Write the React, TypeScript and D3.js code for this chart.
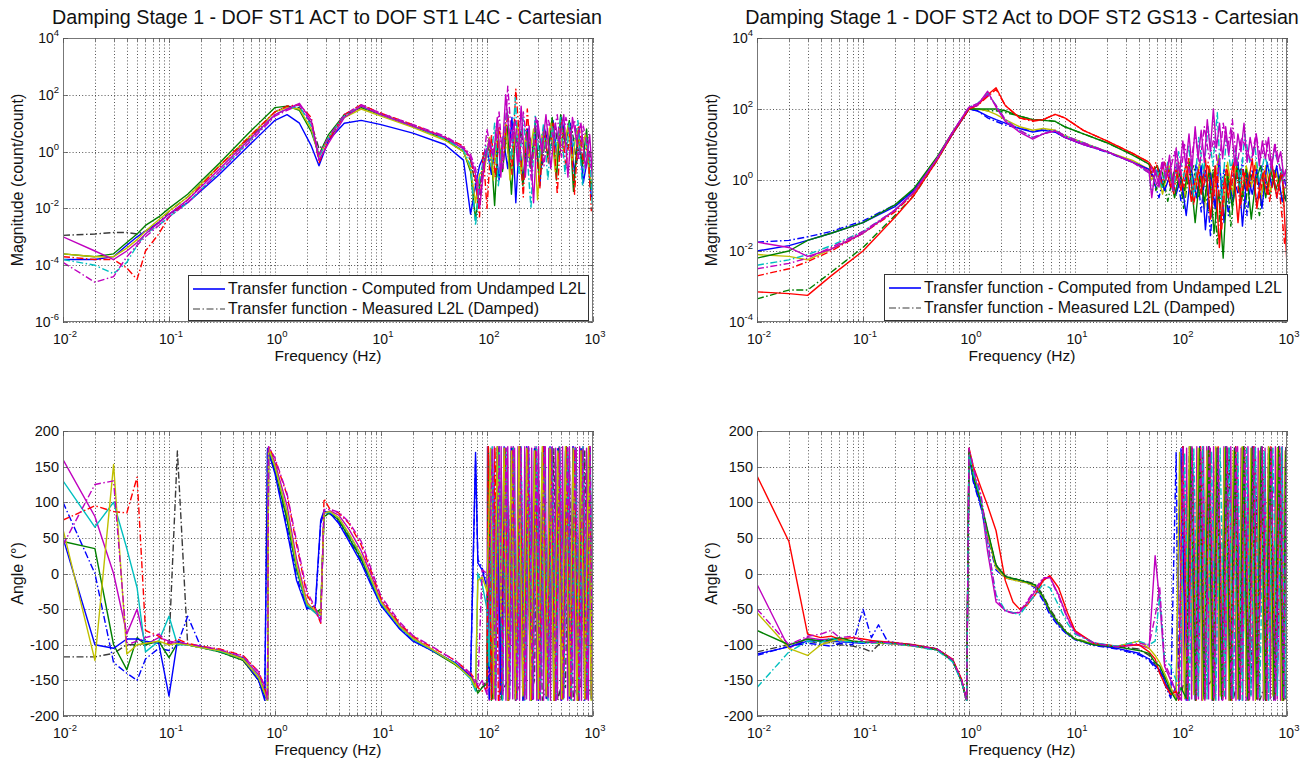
import React from 'react';
import * as d3 from 'd3';

// ---------------- text ----------------
const TITLE_ST1 = 'Damping Stage 1 - DOF ST1 ACT to DOF ST1 L4C - Cartesian';
const TITLE_ST2 = 'Damping Stage 1 - DOF ST2 Act to DOF ST2 GS13 - Cartesian';
const LEGEND_LABELS = ['Transfer function - Computed from Undamped L2L', 'Transfer function - Measured L2L (Damped)'];
const X_LABEL = 'Frequency (Hz)';
const MAG_LABEL = 'Magnitude (count/count)';
const ANGLE_LABEL = 'Angle (\u00b0)';

// ---------------- ticks ----------------
const X_TICK_EXP = [-2, -1, 0, 1, 2, 3];
const MAG_TICK_EXP_ST1 = [4, 2, 0, -2, -4, -6];
const MAG_TICK_EXP_ST2 = [4, 2, 0, -2, -4];
const ANGLE_TICKS = [200, 150, 100, 50, 0, -50, -100, -150, -200];

// ---------------- magnitude ST1 (log10 of count/count) ----------------
const FREQ_MAG_ST1 = [0.01,0.02,0.03,0.04,0.05,0.06,0.08,0.1,0.15,0.3,0.6,1,1.3,1.7,2.2,2.6,3.2,4.5,6.5,10,20,40,60,70,78,85];
const TAIL_MAG_ST1_A = [95,105,115,125,135,150,165,180,195,210,230,250,275,300,330,360,400,440,480,530,580,640,700,770,850,930,1000];
const TAIL_MAG_ST1_B = [92,100,110,120,130,142,157,172,187,202,220,240,262,287,315,345,380,420,460,505,555,610,670,735,810,890,965];
const TAIL_MAG_ST1_C = [98,108,118,128,140,155,170,185,200,218,238,260,285,312,342,375,412,452,495,545,598,655,720,795,870,950,990];
const MAG_ST1_BLACK_DD = [-2.95,-2.9,-2.85,-2.85,-2.9,-2.8,-2.5,-2.1,-1.6,-0.5,0.55,1.4,1.6,1.55,1.0,0.1,0.4,1.25,1.55,1.3,0.9,0.5,0.1,-0.3,-1.2,-1.8,
  -0.3,0.2,-0.9,0.6,-0.2,0.7,-0.7,0.9,-0.2,0.8,-0.5,0.6,0.0,0.8,-0.6,0.7,0.1,0.9,-0.2,0.8,0.1,0.7,-0.4,0.5,-0.2,0.0,-0.9];
const MAG_ST1_BLUE = [-3.8,-3.8,-3.7,-3.3,-3.0,-2.8,-2.5,-2.2,-1.8,-0.8,0.3,1.1,1.3,1.0,0.2,-0.5,0.4,1.0,1.1,0.95,0.65,0.25,-0.3,-2.2,-1.2,-0.5,
  -0.2,0.1,-0.8,0.3,-1.0,0.5,-0.6,1.2,-1.8,0.4,-1.1,0.8,-0.4,0.6,-1.2,0.9,0.2,1.1,-0.3,1.2,0.4,1.0,-0.8,0.7,-1.1,-0.2,-1.6];
const MAG_ST1_GREEN = [-3.6,-3.7,-3.6,-3.2,-2.9,-2.6,-2.3,-2.0,-1.5,-0.4,0.75,1.55,1.6,1.45,0.7,-0.1,0.6,1.3,1.55,1.3,0.9,0.45,0.0,-0.7,-2.4,-1.2,
  -0.1,0.3,-1.9,0.5,-0.7,0.9,-1.5,0.6,0.1,-1.2,0.7,-0.6,1.0,-1.0,0.8,-0.2,1.2,-1.0,1.3,0.3,1.1,-1.4,0.6,-0.5,0.8,-1.3,-1.0];
const MAG_ST1_YELLOW = [-3.6,-3.7,-3.7,-3.4,-3.1,-2.8,-2.4,-2.1,-1.6,-0.5,0.6,1.4,1.55,1.5,0.8,-0.2,0.5,1.2,1.5,1.25,0.85,0.4,0.0,-0.6,-1.8,-0.8,
  -0.6,0.5,-1.0,0.9,-0.4,1.0,-1.0,0.3,1.0,-0.8,0.5,-0.2,0.8,-1.7,0.6,0.1,1.0,-0.7,0.8,0.0,0.9,-0.4,0.8,0.1,0.6,-0.9,-1.1];
const MAG_ST1_RED_DD = [-3.7,-3.8,-3.8,-4.1,-4.5,-3.5,-2.9,-2.3,-1.7,-0.5,0.6,1.4,1.6,1.65,1.2,-0.4,0.4,1.3,1.65,1.35,0.95,0.5,0.2,-0.3,-1.0,-2.3,
  0.0,-2.0,0.6,-0.9,0.9,-0.3,1.4,-0.8,2.2,0.5,-1.6,1.5,-0.5,0.4,-1.3,0.9,-0.4,1.0,-1.5,1.1,-0.6,0.8,-1.5,1.0,-0.4,0.3,-2.1];
const MAG_ST1_CYAN_DD = [-3.8,-4.0,-4.3,-3.9,-3.3,-2.9,-2.6,-2.3,-1.8,-0.7,0.45,1.3,1.5,1.6,0.9,-0.2,0.5,1.25,1.6,1.3,0.9,0.45,0.05,-0.5,-2.6,-1.0,
  0.2,-0.5,1.0,-1.2,0.4,1.5,-0.3,1.9,-0.8,1.2,0.0,-2.0,1.3,-0.2,1.0,-1.0,0.9,0.2,1.2,-0.8,1.0,0.2,1.1,-1.2,0.5,-0.6,-2.1];
const MAG_ST1_MAGENTA = [-3.0,-3.5,-3.8,-3.5,-3.2,-2.9,-2.5,-2.2,-1.7,-0.6,0.5,1.3,1.5,1.7,1.1,-0.3,0.3,1.2,1.6,1.3,0.9,0.5,0.1,-0.2,-0.8,-2.0,
  -0.4,0.4,-0.2,1.2,-0.9,2.0,0.2,1.0,-0.5,1.6,-0.9,0.9,-1.8,1.1,0.0,1.3,-0.6,1.0,0.3,1.3,-0.9,1.2,0.4,1.0,-0.6,0.6,-1.2];
const MAG_ST1_MAGENTA_DD = [-3.9,-4.6,-4.4,-3.7,-3.3,-3.0,-2.6,-2.3,-1.8,-0.7,0.4,1.25,1.45,1.65,1.0,-0.1,0.5,1.3,1.65,1.35,0.95,0.55,0.15,-0.1,-0.6,-1.5,
  -0.5,0.8,-0.1,0.2,1.4,-0.6,2.3,0.3,1.1,-0.4,1.4,0.2,-1.0,1.2,0.5,-0.5,1.1,0.5,1.3,-0.2,1.2,0.6,1.1,-0.3,0.9,0.2,-0.6];

// ---------------- magnitude ST2 (log10 of count/count) ----------------
const FREQ_MAG_ST2 = [0.01,0.02,0.03,0.05,0.1,0.2,0.3,0.5,0.7,1,1.2,1.5,1.8,2.2,3,4,5,6.5,8,12,20,35,50];
const TAIL_MAG_ST2_A = [55,62,70,80,90,100,112,125,140,155,170,190,210,230,255,280,310,345,380,420,470,520,580,650,720,800,900,1000];
const TAIL_MAG_ST2_B = [53,58,66,75,85,95,106,118,132,147,163,180,200,220,242,268,295,327,362,400,445,495,550,615,685,760,850,950];
const TAIL_MAG_ST2_C = [52,60,67,77,87,97,108,120,136,150,166,185,205,226,250,275,305,338,372,412,460,508,565,630,700,780,875,975];
const TAIL_MAG_ST2_DENSE = [53,57,62,67,72,78,84,90,97,104,111,119,127,136,145,155,166,177,189,202,216,231,247,264,282,301,322,344,368,
  393,420,449,480,513,548,586,626,669,715,764,816,872,932,975,1000];
const MAG_ST2_BLUE = [-2.0,-1.85,-1.7,-1.5,-1.2,-0.75,-0.3,0.6,1.3,2.0,1.95,1.8,1.7,1.6,1.45,1.35,1.4,1.35,1.2,1.0,0.8,0.5,0.3,
  0.1,0.3,-0.3,0.2,-0.4,0.1,-1.0,0.3,-0.5,0.4,-1.4,0.2,-0.8,0.6,-1.2,0.0,-0.6,0.5,-1.3,0.2,-0.4,0.3,-0.8,0.5,-0.2,0.4,-0.6,-0.4];
const MAG_ST2_BLUE_DD = [-1.75,-1.7,-1.6,-1.45,-1.15,-0.7,-0.3,0.6,1.3,2.0,1.95,1.75,1.65,1.55,1.45,1.38,1.42,1.35,1.2,1.0,0.78,0.5,0.3,
  0.0,-0.5,0.2,-0.2,0.4,-0.6,0.2,-0.4,0.5,-0.9,0.3,-1.6,0.4,-0.5,0.3,-1.0,0.2,-0.4,0.6,-1.0,0.3,-0.7,0.4,-0.3,0.5,-0.5,0.3,-0.3];
const MAG_ST2_GREEN = [-2.2,-2.0,-1.7,-1.5,-1.2,-0.7,-0.25,0.65,1.35,2.0,2.0,2.0,2.0,1.95,1.8,1.7,1.68,1.65,1.5,1.3,1.05,0.7,0.45,
  0.2,0.4,-0.2,0.3,-0.5,0.2,-0.3,0.5,-1.2,0.1,-0.6,0.3,-1.5,-0.3,-2.2,0.2,-0.8,0.4,-0.6,0.3,-1.1,0.0,0.4,-0.5,0.3,-0.3,0.2,-0.6];
const MAG_ST2_GREEN_DD = [-3.35,-3.1,-3.1,-2.6,-1.9,-1.0,-0.45,0.55,1.3,2.0,2.0,1.95,1.95,1.9,1.8,1.7,1.7,1.65,1.5,1.3,1.05,0.72,0.45,
  0.3,-0.3,0.3,-0.6,0.2,0.4,-0.8,0.1,0.4,-0.5,0.2,-0.9,0.3,-1.8,-0.2,0.3,-1.3,0.0,0.3,-0.8,0.2,-0.3,-1.0,0.2,-0.4,0.3,-0.2,-0.8];
const MAG_ST2_YELLOW = [-2.1,-2.15,-2.25,-1.95,-1.5,-0.85,-0.35,0.6,1.35,2.0,2.0,1.95,1.85,1.7,1.5,1.4,1.45,1.4,1.25,1.05,0.8,0.55,0.3,
  0.0,0.2,-0.4,0.4,-0.1,0.3,-0.5,0.6,-0.2,0.5,-0.8,0.4,-0.3,0.7,-0.9,0.5,-0.4,0.6,-0.5,0.4,-0.2,0.5,-0.6,0.4,-0.3,0.3,-0.4,-0.2];
const MAG_ST2_RED = [-3.15,-3.2,-3.25,-2.7,-2.0,-1.05,-0.45,0.55,1.3,2.0,2.1,2.4,2.6,2.1,1.75,1.68,1.7,1.85,1.75,1.4,1.1,0.75,0.5,
  0.3,0.1,0.5,-0.2,0.3,-0.3,0.5,-0.6,0.2,-0.4,0.6,-1.1,0.4,-1.9,0.1,-0.5,0.5,-1.2,0.3,-0.3,0.6,-0.8,0.2,-0.4,0.5,-0.5,0.3,-2.4];
const MAG_ST2_RED_DD = [-2.7,-2.5,-2.3,-2.0,-1.5,-0.9,-0.38,0.6,1.33,2.0,2.1,2.35,2.55,2.1,1.75,1.65,1.7,1.85,1.75,1.4,1.1,0.75,0.5,
  0.1,0.5,-0.1,0.4,-0.4,0.5,-0.2,0.6,-0.7,0.3,-0.2,0.5,-0.6,0.2,-1.4,0.4,-0.3,0.6,-0.8,0.2,-0.2,0.4,-0.5,0.3,-0.6,0.2,-0.3,-1.8];
const MAG_ST2_CYAN_DD = [-2.4,-2.25,-2.1,-1.85,-1.45,-0.85,-0.35,0.6,1.35,2.05,2.15,2.45,2.1,1.7,1.4,1.2,1.3,1.4,1.25,1.05,0.8,0.5,0.2,
  -0.4,0.3,-0.2,0.5,-0.3,0.8,0.1,1.0,-0.5,1.2,0.2,1.5,0.4,1.9,-0.6,1.2,0.3,0.9,-0.2,1.3,0.5,1.0,-0.1,0.7,0.2,0.8,0.4,0.0];
const MAG_ST2_MAGENTA = [-1.75,-1.9,-2.15,-1.95,-1.5,-0.85,-0.35,0.6,1.35,2.05,2.1,2.5,2.05,1.65,1.35,1.15,1.3,1.38,1.2,1.0,0.8,0.5,0.25,
  -0.5,0.3,-0.2,0.5,0.0,0.7,-0.3,0.9,0.2,1.1,0.4,1.3,0.3,1.5,0.6,1.4,0.5,1.7,0.8,2.0,0.9,1.6,0.6,1.5,0.7,1.4,0.4,1.3,0.8,
  1.6,0.5,1.2,0.7,1.3,0.4,1.1,0.6,1.2,0.3,1.0,0.5,0.8,0.1,0.3,-0.5];
const MAG_ST2_MAGENTA_DD = [-2.5,-2.35,-2.2,-1.9,-1.45,-0.85,-0.35,0.6,1.35,2.05,2.15,2.4,2.1,1.7,1.4,1.2,1.3,1.4,1.25,1.05,0.8,0.5,0.2,
  0.4,-0.2,0.6,0.1,0.8,-0.1,1.0,0.2,1.3,0.4,1.5,0.6,1.2,0.2,1.6,0.9,1.7,0.4,1.2,0.9,0.5,1.3,0.6,1.1,0.4,1.0,0.2,-0.3];

// ---------------- angle ST1 (degrees) ----------------
const FREQ_ANG_ST1 = [0.01,0.02,0.03,0.04,0.05,0.06,0.08,0.1,0.12,0.15,0.2,0.3,0.5,0.7,0.8,0.85,0.87,1,1.3,1.6,2,2.4,2.7,2.9,3.3,4,5,6.5,8,10,15,20,30,50,70,78,82,90,100];
const TAIL_ANG_ST1_A = [108,116,125,135,145,157,170,185,200,218,237,258,280,305,332,361,393,427,465,506,550,598,650,707,769,836,909,960,1000];
const TAIL_ANG_ST1_B = [105,112,120,130,140,151,163,177,192,209,227,247,269,292,318,346,377,410,446,485,528,574,624,679,739,804,875,940,990];
const TAIL_ANG_ST1_C = [103,110,119,128,138,148,160,174,189,204,222,242,263,286,311,339,368,401,436,475,517,562,611,664,723,786,855,925,975];
const TAIL_ANG_DENSE = [101,105,109,113,117,121,126,131,136,141,146,151,157,163,169,175,182,189,196,203,211,219,227,236,245,254,264,274,284,295,
  306,318,330,342,355,369,383,397,412,428,444,461,479,497,516,535,556,577,599,621,645,670,695,722,749,778,808,838,870,903,937,972,1000];
const ANG_ST1_BLACK_DD = [-117,-117,-112,-100,-100,-98,-97,-100,172,-100,-104,-110,-122,-150,-170,-178,176,148,80,8,-45,-52,-55,80,84,75,52,22,-10,-42,-74,-92,-107,-127,-145,-160,-165,-160,-150,
  -140,-150,178,-178,-160,-150,176,-178,-155,-160,178,-170,-150,176,-178,-160,-150,175,-178,-155,-160,176,-178,-150,-160,172,-170,-160,-150];
const ANG_ST1_BLUE = [50,-100,-105,-92,-92,-95,-98,-172,-95,-100,-103,-108,-120,-150,-178,175,170,140,60,-10,-50,-45,75,88,85,70,45,15,-15,-45,-78,-95,-108,-125,-145,170,15,5,-20,
  170,-175,175,-170,178,-178,175,-175,172,-178,178,-172,175,-178,170,-175,178,-176,175,-178,172,-175,178,-170,175,-178,170,-175,178];
const ANG_ST1_BLUE_DD = [100,0,-125,-140,-150,-120,-105,-108,-100,-60,-103,-108,-119,-147,-172,177,172,142,65,-5,-48,-48,70,86,84,72,47,17,-13,-44,-77,-94,-108,-126,-146,160,20,8,-15,
  -178,172,-176,178,-172,176,-178,172,-176,178,-172,176,-178,172,-176,178,-172,176,-178,172,-176,178,-172,176,-178,172,-176,178,-172];
const ANG_ST1_GREEN = [45,35,-100,-135,-90,-100,-95,-118,-98,-100,-104,-110,-122,-150,-170,-178,175,145,75,5,-45,-55,-50,80,85,75,50,20,-10,-42,-75,-92,-108,-128,-145,-160,-168,-160,-155,
  178,-178,-160,175,-175,170,-178,176,-172,178,-176,170,-178,175,-170,178,-175,172,-178,176,-172,178,-176,172,-178,175,-170,176,-178];
const ANG_ST1_CYAN = [130,65,100,35,-20,-110,-95,-60,-100,-100,-104,-109,-120,-145,-168,-178,176,150,85,10,-45,-55,-60,85,86,78,55,25,-8,-42,-75,-92,-107,-126,-148,-165,0,-15,-50,
  -130,178,-175,170,-178,175,-172,178,-176,172,-178,176,-172,178,-175,170,-178,175,-172,178,-176,172,-178,176,-172,178,-176,172,-178];
const ANG_ST1_RED_DD = [75,95,87,85,135,-80,-88,-100,-92,-98,-102,-106,-115,-138,-160,-178,178,160,110,40,-30,-50,-70,105,90,85,70,40,5,-35,-70,-88,-103,-122,-140,-150,-160,-165,-160,
  178,-178,178,-178,-150,176,-178,172,-176,178,-170,175,-178,172,-176,178,-172,175,-178,170,-176,178,-172,175,-178,172,-176,178,-172];
const ANG_ST1_MAGENTA = [160,80,0,-85,-50,-100,-90,-95,-97,-100,-103,-108,-118,-142,-165,-178,178,155,95,20,-40,-55,-65,85,88,82,62,32,0,-38,-72,-90,-106,-126,-142,-155,-160,-150,-170,
  178,-178,176,-176,178,-178,120,-178,178,-176,176,-178,178,-150,178,-176,176,-178,178,-178,60,-178,178,-176,178,-178,176,-176,178,-178,
  178,-176,90,-178,178,-176,176,-178,178,-178,176,-176,178,-178,178,-120,176,-178,178,-176,178,-178,176,-176,178,-178,178,-176,176,-178,
  178,-176,178];
const ANG_ST1_MAGENTA_DD = [40,125,130,-100,-95,-90,-85,-98,-96,-99,-102,-107,-116,-138,-158,-178,178,162,112,45,-25,-48,-68,90,90,86,72,45,8,-32,-68,-87,-102,-122,-140,-150,-158,5,0,
  -20,175,-178,178,-172,176,-178,178,-176,176,-178,178,-176,176,-178,178,-176,176,-178,178,-176,176,-178,178,-176,176,-178,178,-176];
const ANG_ST1_YELLOW = [62,-122,153,-113,-100,-98,-95,-100,-98,-100,-104,-108,-120,-146,-168,-178,177,150,85,12,-42,-52,-58,85,87,78,56,26,-6,-40,-74,-91,-106,-127,-146,-160,-10,-5,-25,
  175,-176,178,-60,176,-178,172,-176,178,-172,176,-178,172,-176,178,-172,176,-178,172,-176,178,-172,176,-178,172,-176,178,-178,178];

// ---------------- angle ST2 (degrees) ----------------
const FREQ_ANG_ST2 = [0.01,0.02,0.03,0.04,0.05,0.06,0.08,0.1,0.12,0.14,0.17,0.2,0.3,0.5,0.7,0.85,0.95,1,1.1,1.3,1.5,1.8,2.2,2.6,3,3.5,4.2,5,5.8,7,8.5,10,15,25,40,50,57,63,70,80,90];
const TAIL_ANG_ST2_A = [97,108,120,132,145,160,176,194,213,234,258,284,312,343,378,416,457,503,553,609,670,737,811,892,960,1000];
const TAIL_ANG_ST2_B = [95,104,115,127,139,153,168,185,204,224,247,271,298,328,361,397,437,481,529,582,640,704,775,852,930,985];
const TAIL_ANG_ST2_C = [100,112,124,137,150,165,182,200,220,242,266,292,322,354,389,428,471,518,570,627,690,759,835,918,975,995];
const ANG_ST2_BLACK_DD = [-110,-100,-95,-98,-97,-100,-102,-105,-110,-100,-98,-99,-101,-106,-121,-150,-178,170,132,98,58,12,-3,-7,-9,-11,-15,-30,-50,-68,-83,-91,-99,-102,-106,-115,-128,-135,-148,-168,-172,
  -176,-150,178,-165,-170,176,-160,-150,178,-170,-160,176,-176,-150,178,-165,-170,176,-178,-160,178,-170,-155,176,-176,-160];
const ANG_ST2_BLUE = [-113,-103,-95,-94,-95,-96,-97,-98,-96,-98,-97,-98,-101,-106,-122,-150,-178,170,130,95,55,10,-5,-8,-10,-12,-18,-35,-55,-72,-85,-92,-100,-105,-112,-120,-130,-135,-150,-172,-160,
  175,-178,172,-176,178,-172,176,-178,170,-176,178,-172,176,-178,172,-176,178,-172,176,-178,172,-176,178,-172,176,-178];
const ANG_ST2_BLUE_DD = [-115,-102,-98,-100,-102,-98,-100,-50,-90,-72,-95,-97,-100,-106,-121,-151,-178,168,128,92,50,5,-6,-9,-11,-13,-20,-38,-58,-74,-86,-93,-101,-106,-114,-122,-133,-138,-155,-175,170,
  -176,178,-172,176,-178,170,-176,178,-172,176,-178,170,-176,178,-172,176,-178,170,-176,178,-172,176,-178,170,-176,178];
const ANG_ST2_YELLOW = [-55,-105,-115,-100,-95,-93,-95,-96,-97,-98,-98,-99,-102,-107,-122,-150,-178,172,138,100,55,8,-6,-9,-11,-13,-18,-33,-53,-70,-84,-92,-99,-102,-95,-105,-115,-125,-140,-160,-175,
  170,-175,178,-170,176,-178,172,-176,178,-172,176,-178,172,-176,178,-172,176,-178,172,-176,178,-172,176,-178,172,-176];
const ANG_ST2_RED = [137,45,-85,-90,-88,-92,-90,-92,-94,-95,-96,-97,-100,-106,-120,-148,-178,176,150,120,95,60,-10,-40,-50,-45,-30,-10,-3,-20,-55,-80,-98,-102,-100,-110,-120,-140,-155,-170,-165,
  -178,178,-176,176,-178,178,-176,176,-178,178,-176,176,-178,178,-176,176,-178,178,-176,176,-178,178,-176,176,-178,178];
const ANG_ST2_CYAN_DD = [-160,-110,-95,-97,-90,-95,-96,-97,-98,-97,-98,-99,-102,-108,-124,-152,-178,168,140,105,40,-30,-52,-55,-58,-45,-30,-15,-20,-45,-70,-85,-97,-102,-95,-100,-95,-30,-120,-130,-150,
  -165,170,-178,176,-172,178,-176,172,-178,176,-172,178,-176,172,-178,176,-172,178,-176,172,-178,176,-172,178,-176,172];
const ANG_ST2_GREEN = [-80,-100,-92,-95,-93,-90,-95,-96,-97,-96,-98,-98,-101,-107,-122,-152,-178,172,135,100,60,12,-4,-7,-9,-12,-16,-32,-52,-70,-84,-92,-100,-103,-108,-112,-125,-130,-145,-165,-178,
  -160,-175,178,-178,176,-176,178,-178,176,-176,178,-178,176,-176,178,-178,176,-176,178,-178,176,-176,178,-178,176,-176];
const ANG_ST2_MAGENTA_DD = [-50,-100,-88,-85,-80,-90,-88,-95,-97,-96,-97,-98,-101,-106,-121,-149,-178,176,150,110,45,-35,-53,-56,-54,-40,-22,-6,-6,-32,-64,-83,-98,-103,-98,-100,-60,-20,-125,-145,-170,
  -176,176,-178,178,-176,176,-178,178,-176,176,-178,178,-176,176,-178,178,-176,176,-178,178,-176,176,-178,178,-176,176];
const ANG_ST2_MAGENTA = [-15,-105,-90,-93,-92,-94,-95,-97,-96,-97,-98,-99,-102,-107,-123,-150,-178,175,145,100,30,-40,-52,-55,-55,-42,-25,-8,-5,-30,-62,-82,-97,-103,-100,-105,25,-40,-130,-150,-165,
  -178,178,-176,176,-178,178,-176,140,-178,178,-176,176,-178,178,-100,178,-176,176,-178,178,-176,176,-178,40,-178,178,-176,176,-178,178,
  -176,176,-178,178,-176,176,-178,150,-178,178,-176,176,-178,178,-176,176,-60,178,-178,176,-178,178,-176,176,-178,178,-176,176,-178,178,
  -176,176,-178];

// ---------------- styles ----------------
const FONT = '"Liberation Sans", Arial, Helvetica, sans-serif';
const BLUE = '#0000ff', GREEN = '#008000', RED = '#ff0000', CYAN = '#00bfbf', MAGENTA = '#bf00bf', YELLOW = '#bfbf00', BLACK = '#3a3a3a';
const DASHDOT = '7,2.5,1.5,2.5';

type Series = { color: string; dash: boolean; values: number[]; tail: number[] };
type PanelCfg = {
  id: string; kind: 'mag' | 'ang'; title?: string; titleX?: number;
  x0: number; x1: number; y0: number; y1: number;
  yExp?: number[]; freqs: number[]; series: Series[];
  legend?: { x: number; y: number; w: number; h: number };
  yLabelX: number; xTickY: number; xTitleY: number;
};

const PANELS: PanelCfg[] = [
  {
    id: 'tl', kind: 'mag', title: TITLE_ST1, titleX: 327, x0: 63, x1: 593, y0: 38, y1: 322, yExp: MAG_TICK_EXP_ST1,
    freqs: FREQ_MAG_ST1,
    series: [
      { color: BLACK, dash: true, values: MAG_ST1_BLACK_DD, tail: TAIL_MAG_ST1_A },
      { color: BLUE, dash: false, values: MAG_ST1_BLUE, tail: TAIL_MAG_ST1_B },
      { color: GREEN, dash: false, values: MAG_ST1_GREEN, tail: TAIL_MAG_ST1_C },
      { color: YELLOW, dash: false, values: MAG_ST1_YELLOW, tail: TAIL_MAG_ST1_A },
      { color: RED, dash: true, values: MAG_ST1_RED_DD, tail: TAIL_MAG_ST1_B },
      { color: CYAN, dash: true, values: MAG_ST1_CYAN_DD, tail: TAIL_MAG_ST1_C },
      { color: MAGENTA, dash: false, values: MAG_ST1_MAGENTA, tail: TAIL_MAG_ST1_A },
      { color: MAGENTA, dash: true, values: MAG_ST1_MAGENTA_DD, tail: TAIL_MAG_ST1_B },
    ],
    legend: { x: 188, y: 275, w: 400, h: 45 }, yLabelX: 17, xTickY: 344, xTitleY: 361,
  },
  {
    id: 'tr', kind: 'mag', title: TITLE_ST2, titleX: 1022, x0: 757, x1: 1287, y0: 38, y1: 322, yExp: MAG_TICK_EXP_ST2,
    freqs: FREQ_MAG_ST2,
    series: [
      { color: BLUE, dash: true, values: MAG_ST2_BLUE_DD, tail: TAIL_MAG_ST2_A },
      { color: GREEN, dash: true, values: MAG_ST2_GREEN_DD, tail: TAIL_MAG_ST2_B },
      { color: YELLOW, dash: false, values: MAG_ST2_YELLOW, tail: TAIL_MAG_ST2_C },
      { color: BLUE, dash: false, values: MAG_ST2_BLUE, tail: TAIL_MAG_ST2_A },
      { color: GREEN, dash: false, values: MAG_ST2_GREEN, tail: TAIL_MAG_ST2_C },
      { color: RED, dash: true, values: MAG_ST2_RED_DD, tail: TAIL_MAG_ST2_B },
      { color: RED, dash: false, values: MAG_ST2_RED, tail: TAIL_MAG_ST2_A },
      { color: CYAN, dash: true, values: MAG_ST2_CYAN_DD, tail: TAIL_MAG_ST2_B },
      { color: MAGENTA, dash: true, values: MAG_ST2_MAGENTA_DD, tail: TAIL_MAG_ST2_C },
      { color: MAGENTA, dash: false, values: MAG_ST2_MAGENTA, tail: TAIL_MAG_ST2_DENSE },
    ],
    legend: { x: 884, y: 274, w: 403, h: 46 }, yLabelX: 711, xTickY: 344, xTitleY: 361,
  },
  {
    id: 'bl', kind: 'ang', x0: 63, x1: 593, y0: 431, y1: 716, freqs: FREQ_ANG_ST1,
    series: [
      { color: BLACK, dash: true, values: ANG_ST1_BLACK_DD, tail: TAIL_ANG_ST1_A },
      { color: MAGENTA, dash: false, values: ANG_ST1_MAGENTA, tail: TAIL_ANG_DENSE },
      { color: BLUE, dash: true, values: ANG_ST1_BLUE_DD, tail: TAIL_ANG_ST1_B },
      { color: GREEN, dash: false, values: ANG_ST1_GREEN, tail: TAIL_ANG_ST1_C },
      { color: BLUE, dash: false, values: ANG_ST1_BLUE, tail: TAIL_ANG_ST1_A },
      { color: CYAN, dash: false, values: ANG_ST1_CYAN, tail: TAIL_ANG_ST1_B },
      { color: RED, dash: true, values: ANG_ST1_RED_DD, tail: TAIL_ANG_ST1_C },
      { color: YELLOW, dash: false, values: ANG_ST1_YELLOW, tail: TAIL_ANG_ST1_A },
      { color: MAGENTA, dash: true, values: ANG_ST1_MAGENTA_DD, tail: TAIL_ANG_ST1_B },
    ],
    yLabelX: 17, xTickY: 738, xTitleY: 755,
  },
  {
    id: 'br', kind: 'ang', x0: 757, x1: 1287, y0: 431, y1: 716, freqs: FREQ_ANG_ST2,
    series: [
      { color: BLACK, dash: true, values: ANG_ST2_BLACK_DD, tail: TAIL_ANG_ST2_A },
      { color: MAGENTA, dash: false, values: ANG_ST2_MAGENTA, tail: TAIL_ANG_DENSE },
      { color: BLUE, dash: true, values: ANG_ST2_BLUE_DD, tail: TAIL_ANG_ST2_B },
      { color: BLUE, dash: false, values: ANG_ST2_BLUE, tail: TAIL_ANG_ST2_C },
      { color: YELLOW, dash: false, values: ANG_ST2_YELLOW, tail: TAIL_ANG_ST2_A },
      { color: RED, dash: false, values: ANG_ST2_RED, tail: TAIL_ANG_ST2_B },
      { color: GREEN, dash: false, values: ANG_ST2_GREEN, tail: TAIL_ANG_ST2_C },
      { color: CYAN, dash: true, values: ANG_ST2_CYAN_DD, tail: TAIL_ANG_ST2_A },
      { color: MAGENTA, dash: true, values: ANG_ST2_MAGENTA_DD, tail: TAIL_ANG_ST2_B },
    ],
    yLabelX: 711, xTickY: 738, xTitleY: 755,
  },
];

function isDecade(t: number) {
  const l = Math.log10(t);
  return Math.abs(l - Math.round(l)) < 1e-6;
}

function Panel({ p }: { p: PanelCfg }) {
  const x = d3.scaleLog().domain([0.01, 1000]).range([p.x0, p.x1]);
  const isMag = p.kind === 'mag';
  const yExp = p.yExp || [];
  const yMag = d3.scaleLog()
    .domain([Math.pow(10, yExp[yExp.length - 1] ?? -6), Math.pow(10, yExp[0] ?? 4)])
    .range([p.y1, p.y0]);
  const yAng = d3.scaleLinear().domain([-200, 200]).range([p.y1, p.y0]);
  const yv = (v: number) => (isMag ? yMag(Math.pow(10, v)) : yAng(v));

  const line = d3.line<[number, number]>().x(d => x(d[0])).y(d => yv(d[1]));
  const xTicks = x.ticks();
  const yGrid = isMag ? yExp.map(e => yMag(Math.pow(10, e))) : ANGLE_TICKS.map(v => yAng(v));
  const clipId = `clip-${p.id}`;
  const gridStyle = { stroke: '#2a2a2a', strokeWidth: 0.8, strokeDasharray: '1,2.2' };

  return (
    <g>
      <defs>
        <clipPath id={clipId}>
          <rect x={p.x0} y={p.y0} width={p.x1 - p.x0} height={p.y1 - p.y0} />
        </clipPath>
      </defs>
      <rect x={p.x0} y={p.y0} width={p.x1 - p.x0} height={p.y1 - p.y0} fill="#fff" />
      {xTicks.map((t, i) => {
        const xx = Math.round(x(t)) + 0.5;
        return <line key={`vx${i}`} x1={xx} x2={xx} y1={p.y0} y2={p.y1} style={gridStyle} />;
      })}
      {yGrid.map((yy, i) => (
        <line key={`hy${i}`} x1={p.x0} x2={p.x1} y1={Math.round(yy) + 0.5} y2={Math.round(yy) + 0.5} style={gridStyle} />
      ))}
      <g clipPath={`url(#${clipId})`}>
        {p.series.map((s, i) => {
          const fr = p.freqs.concat(s.tail);
          const pts: [number, number][] = fr.map((f, k) => [f, s.values[k]]);
          return (
            <path key={`s${i}`} d={line(pts) || ''} fill="none" stroke={s.color} strokeWidth={1.4}
              strokeDasharray={s.dash ? DASHDOT : undefined} strokeLinejoin="round" />
          );
        })}
      </g>
      <rect x={p.x0 + 0.5} y={p.y0 + 0.5} width={p.x1 - p.x0 - 1} height={p.y1 - p.y0 - 1} fill="none" stroke="#777" strokeWidth={1} />
      {xTicks.map((t, i) => {
        const xx = Math.round(x(t)) + 0.5;
        const len = isDecade(t) ? 5 : 3;
        return (
          <g key={`xt${i}`} stroke="#555" strokeWidth={0.8}>
            <line x1={xx} x2={xx} y1={p.y1} y2={p.y1 - len} />
            <line x1={xx} x2={xx} y1={p.y0} y2={p.y0 + len} />
          </g>
        );
      })}
      {X_TICK_EXP.map(e => (
        <text key={`xl${e}`} x={x(Math.pow(10, e)) + 2} y={p.xTickY} textAnchor="middle" fontSize={14} fontFamily={FONT} fill="#111">
          10<tspan dy={-7} fontSize={9.5}>{e}</tspan>
        </text>
      ))}
      {isMag
        ? yExp.map(e => (
          <text key={`yl${e}`} x={p.x0 - 4} y={yMag(Math.pow(10, e)) + 5} textAnchor="end" fontSize={14} fontFamily={FONT} fill="#111">
            10<tspan dy={-7} fontSize={9.5}>{e}</tspan>
          </text>
        ))
        : ANGLE_TICKS.map(v => (
          <text key={`yl${v}`} x={p.x0 - 4} y={yAng(v) + 5} textAnchor="end" fontSize={14.5} fontFamily={FONT} fill="#111">
            {v}
          </text>
        ))}
      {yGrid.map((yy, i) => (
        <g key={`ytm${i}`} stroke="#555" strokeWidth={0.8}>
          <line x1={p.x0} x2={p.x0 + 5} y1={Math.round(yy) + 0.5} y2={Math.round(yy) + 0.5} />
          <line x1={p.x1} x2={p.x1 - 5} y1={Math.round(yy) + 0.5} y2={Math.round(yy) + 0.5} />
        </g>
      ))}
      <text x={(p.x0 + p.x1) / 2} y={p.xTitleY} textAnchor="middle" fontSize={15.5} fontFamily={FONT} fill="#111">{X_LABEL}</text>
      <text transform={`translate(${p.yLabelX},${(p.y0 + p.y1) / 2}) rotate(-90)`} textAnchor="middle" dominantBaseline="central"
        fontSize={16} fontFamily={FONT} fill="#111">{isMag ? MAG_LABEL : ANGLE_LABEL}</text>
      {p.title && (
        <text x={p.titleX} y={24} textAnchor="middle" fontSize={19.7} fontFamily={FONT} fill="#111">{p.title}</text>
      )}
      {p.legend && (
        <g>
          <rect x={p.legend.x + 0.5} y={p.legend.y + 0.5} width={p.legend.w} height={p.legend.h} fill="#fff" stroke="#333" strokeWidth={1} />
          <line x1={p.legend.x + 5} x2={p.legend.x + 37} y1={p.legend.y + 14} y2={p.legend.y + 14} stroke={BLUE} strokeWidth={1.6} />
          <text x={p.legend.x + 40} y={p.legend.y + 19} fontSize={16} fontFamily={FONT} fill="#111">{LEGEND_LABELS[0]}</text>
          <line x1={p.legend.x + 5} x2={p.legend.x + 37} y1={p.legend.y + 34} y2={p.legend.y + 34} stroke={BLACK} strokeWidth={1.2} strokeDasharray={DASHDOT} />
          <text x={p.legend.x + 40} y={p.legend.y + 39} fontSize={16} fontFamily={FONT} fill="#111">{LEGEND_LABELS[1]}</text>
        </g>
      )}
    </g>
  );
}

export default function App() {
  return (
    <svg width={1307} height={760} viewBox="0 0 1307 760" style={{ position: 'absolute', left: 0, top: 0, background: '#fff' }}>
      <rect x={0} y={0} width={1307} height={760} fill="#fff" />
      {PANELS.map(p => <Panel key={p.id} p={p} />)}
    </svg>
  );
}
